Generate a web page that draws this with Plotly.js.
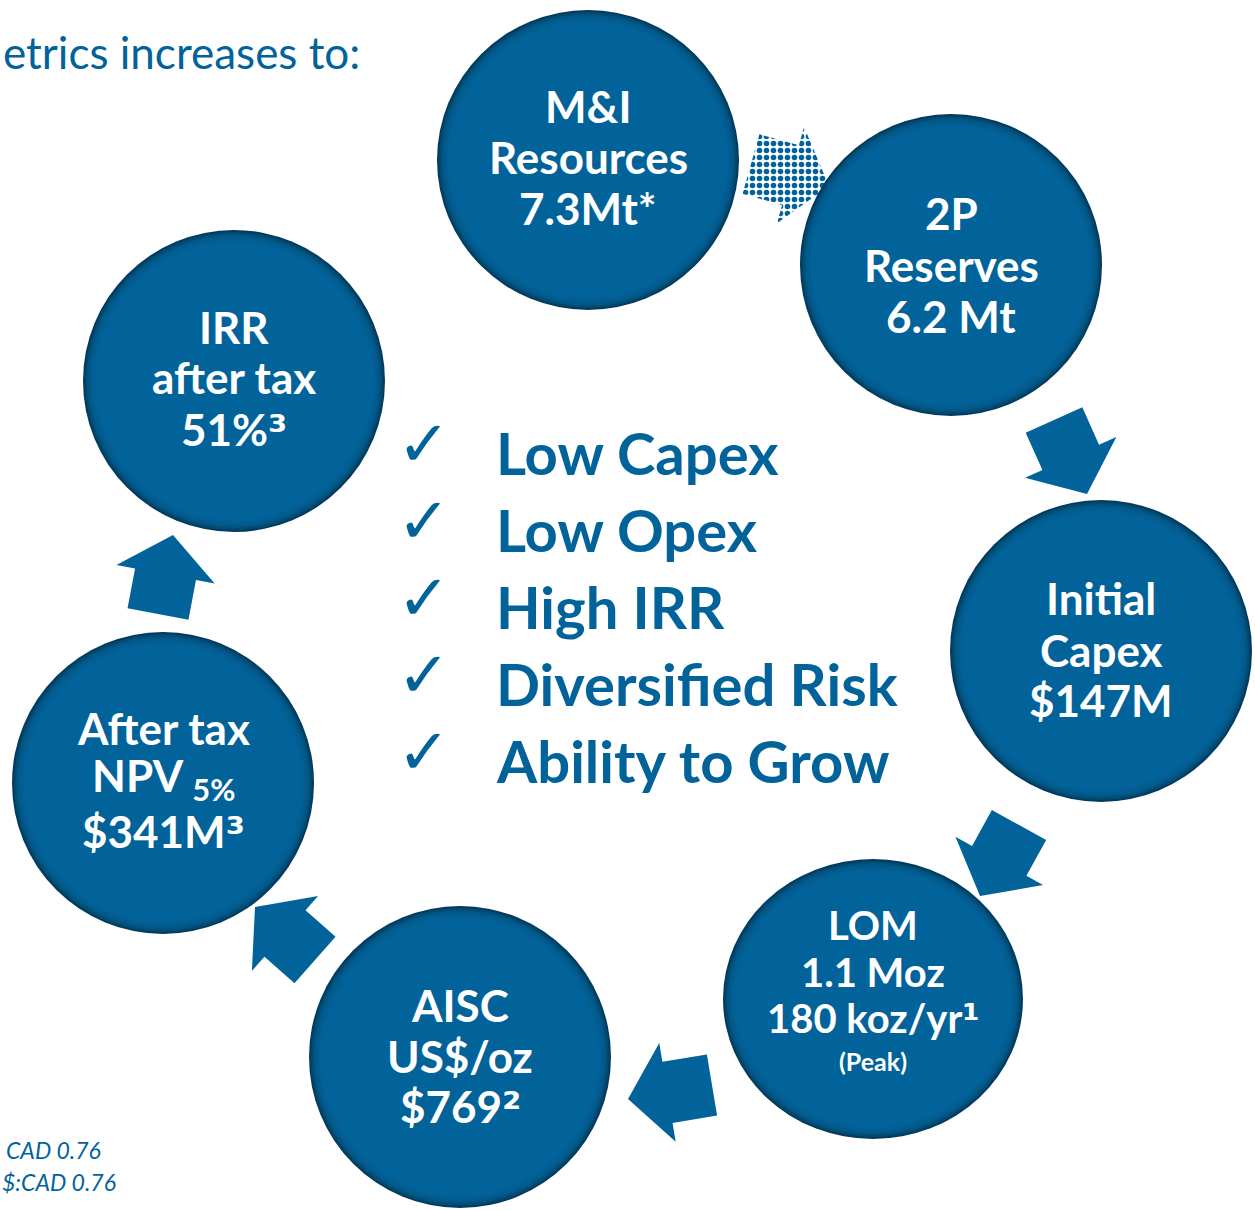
<!DOCTYPE html>
<html>
<head>
<meta charset="utf-8">
<script src="https://cdn.plot.ly/plotly-3.0.1.min.js"></script>
<style>html,body{margin:0;padding:0;background:#fff;}#chart{width:1255px;height:1210px;}</style>
</head>
<body>
<div id="chart"></div>
<script>
// ---- data (text content) ----
var headerText = "etrics increases to:";
var SUP = '<span style="font-family:DejaVu Sans">';
var circleLines = [
  ["M&I", "Resources", "7.3Mt*"],
  ["2P", "Reserves", "6.2 Mt"],
  ["Initial", "Capex", "$147M"],
  ["LOM", "1.1 Moz", "180 koz/yr" + SUP + "¹</span>", "(Peak)"],
  ["AISC", "US$/oz", "$769" + SUP + "²</span>"],
  ["After tax", "NPV <sub>5%</sub>", "$341M" + SUP + "³</span>"],
  ["IRR", "after tax", "51%" + SUP + "³</span>"]
];
var checklist = ["Low Capex", "Low Opex", "High IRR", "Diversified Risk", "Ability to Grow"];
var footnotes = ["CAD 0.76", "$:CAD 0.76"];

// ---- layout geometry (pixel coordinates) ----
var circleGeom = [
  {cx: 588, cy: 160, rx: 151, ry: 150, ys: [106, 157, 208]},
  {cx: 951, cy: 265, rx: 151, ry: 151, ys: [213, 265, 316]},
  {cx: 1101, cy: 651, rx: 151, ry: 151, ys: [598, 650, 700]},
  {cx: 873, cy: 999, rx: 150, ry: 140, ys: [925, 972, 1018, 1061]},
  {cx: 460, cy: 1057, rx: 151, ry: 151, ys: [1005, 1056, 1106]},
  {cx: 163, cy: 783, rx: 151, ry: 151, ys: [728, 778, 831]},
  {cx: 234, cy: 381, rx: 151, ry: 151, ys: [327, 377, 429]}
];
var lineSizes = [
  [44, 44, 44], [44, 44, 44], [44, 44, 44], [40, 40, 40, 25], [44, 44, 44], [44, 44, 44], [44, 44, 44]
];
var arrowGeom = [
  {t: [751, 164], p: [829, 186], dotted: true},
  {t: [1054, 420], p: [1087, 494]},
  {t: [1019, 825], p: [980, 896]},
  {t: [712, 1085], p: [628, 1099]},
  {t: [315, 960], p: [255, 907]},
  {t: [158, 614], p: [173, 535]}
];

var BLUE = "#02639B";
var W = 1255, H = 1210;

function arrowPoly(t, p, sw, hw, hl) {
  var dx = p[0] - t[0], dy = p[1] - t[1];
  var L = Math.sqrt(dx * dx + dy * dy);
  var ux = dx / L, uy = dy / L, nx = -uy, ny = ux;
  var bx = p[0] - hl * ux, by = p[1] - hl * uy;
  var pts = [
    [t[0] + nx * sw / 2, t[1] + ny * sw / 2],
    [bx + nx * sw / 2, by + ny * sw / 2],
    [bx + nx * hw / 2, by + ny * hw / 2],
    [p[0], p[1]],
    [bx - nx * hw / 2, by - ny * hw / 2],
    [bx - nx * sw / 2, by - ny * sw / 2],
    [t[0] - nx * sw / 2, t[1] - ny * sw / 2],
    [t[0] + nx * sw / 2, t[1] + ny * sw / 2]
  ];
  return {x: pts.map(function (q) { return q[0]; }), y: pts.map(function (q) { return q[1]; })};
}

var traces = [];
arrowGeom.forEach(function (a) {
  var poly = arrowPoly(a.t, a.p, 62, 100, 40);
  var tr = {
    x: poly.x, y: poly.y, type: "scatter", mode: "lines", fill: "toself",
    line: {width: 0, color: "rgba(0,0,0,0)"}, hoverinfo: "skip", showlegend: false
  };
  if (a.dotted) {
    tr.fillcolor = "rgba(255,255,255,0)";
    tr.fillpattern = {shape: ".", fgcolor: BLUE, bgcolor: "rgba(255,255,255,0)", size: 7, solidity: 0.5};
  } else {
    tr.fillcolor = BLUE;
  }
  traces.push(tr);
});

// circles as layered ellipse shapes for a darker rim
var rings = [
  {off: 0, color: "#023b5f"},
  {off: 2, color: "#024a72"},
  {off: 4, color: "#025480"},
  {off: 6, color: "#025b8c"},
  {off: 9, color: "#026096"},
  {off: 12, color: BLUE}
];
var shapes = [];
circleGeom.forEach(function (c) {
  rings.forEach(function (r) {
    shapes.push({
      type: "circle", xref: "x", yref: "y",
      x0: c.cx - c.rx + r.off, x1: c.cx + c.rx - r.off,
      y0: c.cy - c.ry + r.off, y1: c.cy + c.ry - r.off,
      fillcolor: r.color, line: {width: 0}, layer: "above"
    });
  });
});

var FONT = "Lato, 'Open Sans', sans-serif";
var annotations = [];
circleLines.forEach(function (lines, i) {
  var g = circleGeom[i];
  lines.forEach(function (txt, j) {
    annotations.push({
      x: g.cx, y: g.ys[j], xref: "x", yref: "y", text: "<b>" + txt + "</b>",
      showarrow: false, xanchor: "center", yanchor: "middle",
      font: {family: FONT, size: lineSizes[i][j], color: "#ffffff"}
    });
  });
});

checklist.forEach(function (txt, k) {
  var yc = 452 + k * 77;
  annotations.push({
    x: 494, y: yc, xref: "x", yref: "y", text: "<b>" + txt + "</b>",
    showarrow: false, xanchor: "left", yanchor: "middle",
    font: {family: FONT, size: 58, color: BLUE}
  });
  annotations.push({
    x: 424, y: yc - 8, xref: "x", yref: "y", text: "✓",
    showarrow: false, xanchor: "center", yanchor: "middle",
    font: {family: "DejaVu Sans", size: 64, color: BLUE}
  });
});

annotations.push({
  x: 1, y: 52, xref: "x", yref: "y", text: headerText, showarrow: false,
  xanchor: "left", yanchor: "middle", font: {family: FONT, size: 44, color: BLUE}
});
annotations.push({
  x: 103, y: 1150, xref: "x", yref: "y", text: "<i>" + footnotes[0] + "</i>", showarrow: false,
  xanchor: "right", yanchor: "middle", font: {family: FONT, size: 23, color: BLUE}
});
annotations.push({
  x: 0, y: 1182, xref: "x", yref: "y", text: "<i>" + footnotes[1] + "</i>", showarrow: false,
  xanchor: "left", yanchor: "middle", font: {family: FONT, size: 23, color: BLUE}
});

var layout = {
  width: W, height: H,
  margin: {l: 0, r: 0, t: 0, b: 0, pad: 0},
  paper_bgcolor: "#ffffff", plot_bgcolor: "#ffffff",
  xaxis: {range: [0, W], visible: false, fixedrange: true},
  yaxis: {range: [H, 0], visible: false, fixedrange: true},
  shapes: shapes, annotations: annotations, showlegend: false
};

Plotly.newPlot("chart", traces, layout, {staticPlot: true, displayModeBar: false});
</script>
</body>
</html>
